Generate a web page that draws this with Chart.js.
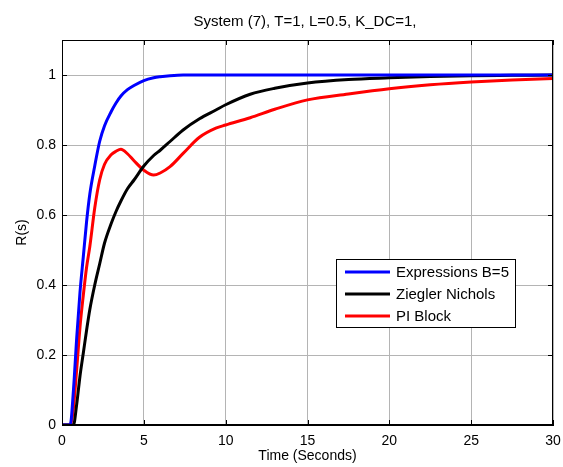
<!DOCTYPE html>
<html>
<head>
<meta charset="utf-8">
<script src="https://cdn.jsdelivr.net/npm/chart.js@4.4.1/dist/chart.umd.min.js"></script>
<style>
    html, body { margin: 0; padding: 0; background: #fff; }
</style>
</head>
<body>
<canvas id="myChart" width="563" height="467"></canvas>
<script>
// time samples (seconds) and the three step responses
var times       = [0, 0.5, 0.7, 0.9, 1.1, 1.3, 1.5, 1.7, 2.0, 2.3, 2.6, 3.0, 3.3, 3.6, 4.0, 4.4, 5.0, 5.6, 6.0, 6.6, 7.4, 8.4, 9.4, 10, 11.5, 13, 15, 17.5, 20, 22.5, 25, 27.5, 30];
var expressions = [0, 0, 0.10, 0.25, 0.38, 0.48, 0.58, 0.66, 0.74, 0.81, 0.855, 0.895, 0.92, 0.94, 0.958, 0.97, 0.984, 0.992, 0.995, 0.998, 1.0, 1.0, 1.0, 1.0, 1.0, 1.0, 1.0, 1.0, 1.0, 1.0, 1.0, 1.0, 1.0];
var ziegler     = [0, 0, 0.0, 0.06, 0.14, 0.205, 0.27, 0.33, 0.40, 0.46, 0.52, 0.575, 0.61, 0.64, 0.675, 0.70, 0.74, 0.77, 0.785, 0.81, 0.843, 0.875, 0.90, 0.915, 0.945, 0.962, 0.977, 0.987, 0.992, 0.996, 0.998, 0.999, 1.0];
var piBlock     = [0, 0, 0.05, 0.16, 0.28, 0.37, 0.45, 0.51, 0.62, 0.70, 0.745, 0.772, 0.782, 0.788, 0.775, 0.755, 0.728, 0.714, 0.72, 0.738, 0.776, 0.822, 0.848, 0.857, 0.878, 0.902, 0.929, 0.946, 0.961, 0.972, 0.98, 0.986, 0.99];

var seriesLabels = ['Expressions B=5', 'Ziegler Nichols', 'PI Block'];
var seriesColors = ['#0000ff', '#000000', '#ff0000'];

var xTicks = [0, 5, 10, 15, 20, 25, 30];
var yTicks = [0, 0.2, 0.4, 0.6, 0.8, 1];

var FONT = "'Liberation Sans', Arial, sans-serif";
Chart.defaults.font.family = FONT;
Chart.defaults.font.size = 14;
Chart.defaults.color = '#000';

function toPoints(values) {
    return times.map(function(t, i) { return { x: t, y: values[i] }; });
}

// title, box frame, inner tick marks and the legend inside the axes
var matlabLook = {
    id: 'matlabLook',
    afterDraw: function(chart) {
        var ctx = chart.ctx;
        var a = chart.chartArea;
        var xs = chart.scales.x, ys = chart.scales.y;
        ctx.save();

        ctx.fillStyle = '#000';
        ctx.font = '15px ' + FONT;
        ctx.textAlign = 'center';
        ctx.textBaseline = 'alphabetic';
        ctx.fillText('System (7), T=1, L=0.5, K_DC=1,', (a.left + a.right) / 2 - 2.5, 26);

        ctx.strokeStyle = '#000';
        ctx.lineWidth = 1;
        ctx.strokeRect(a.left + 0.5, a.top + 0.5, a.right - a.left - 1, a.bottom - a.top - 1);

        ctx.beginPath();
        xTicks.forEach(function(v) {
            var px = Math.round(xs.getPixelForValue(v)) + 0.5;
            ctx.moveTo(px, a.bottom); ctx.lineTo(px, a.bottom - 5);
            ctx.moveTo(px, a.top); ctx.lineTo(px, a.top + 5);
        });
        yTicks.forEach(function(v) {
            var py = Math.round(ys.getPixelForValue(v)) + 0.5;
            ctx.moveTo(a.left, py); ctx.lineTo(a.left + 5, py);
            ctx.moveTo(a.right, py); ctx.lineTo(a.right - 5, py);
        });
        ctx.stroke();

        // legend box
        var lx = a.right - 217, ly = a.top + 219, lw = 179, lh = 68;
        ctx.fillStyle = '#fff';
        ctx.fillRect(lx, ly, lw, lh);
        ctx.strokeRect(lx + 0.5, ly + 0.5, lw, lh);
        ctx.font = '15px ' + FONT;
        ctx.textAlign = 'left';
        ctx.textBaseline = 'middle';
        chart.data.datasets.forEach(function(ds, i) {
            var y = ly + 13 + i * 22;
            ctx.strokeStyle = ds.borderColor;
            ctx.lineWidth = 3;
            ctx.beginPath();
            ctx.moveTo(lx + 9, y); ctx.lineTo(lx + 54, y);
            ctx.stroke();
            ctx.fillStyle = '#000';
            ctx.fillText(ds.label, lx + 60, y + 1);
        });
        ctx.restore();
    }
};

var ctx = document.getElementById('myChart');
var myChart = new Chart(ctx, {
    type: 'line',
    data: {
        datasets: [expressions, ziegler, piBlock].map(function(values, i) {
            return {
                label: seriesLabels[i],
                data: toPoints(values),
                borderColor: seriesColors[i],
                backgroundColor: seriesColors[i],
                borderWidth: 3,
                pointRadius: 0,
                cubicInterpolationMode: 'monotone',
                fill: false
            };
        })
    },
    options: {
        responsive: false,
        animation: false,
        layout: { padding: { top: 40, right: 10, left: 0, bottom: 0 } },
        plugins: {
            legend: { display: false },
            title: { display: false },
            tooltip: { enabled: false }
        },
        scales: {
            x: {
                type: 'linear',
                min: 0,
                max: 30,
                afterBuildTicks: function(scale) {
                    scale.ticks = xTicks.map(function(v) { return { value: v }; });
                },
                afterFit: function(scale) {
                    scale.height = 42;
                    scale.paddingLeft = 0;
                    scale.paddingRight = 0;
                },
                grid: { color: '#b4b4b4', drawTicks: false },
                border: { color: '#000', width: 1 },
                ticks: { padding: 8, maxRotation: 0, color: '#000' },
                title: { display: true, text: 'Time (Seconds)', color: '#000', padding: { top: 0, bottom: 2 } }
            },
            y: {
                type: 'linear',
                min: 0,
                max: 1.1,
                afterBuildTicks: function(scale) {
                    scale.ticks = yTicks.map(function(v) { return { value: v }; });
                },
                afterFit: function(scale) { scale.width = 62; },
                grid: { color: '#b4b4b4', drawTicks: false },
                border: { color: '#000', width: 1 },
                ticks: {
                    padding: 6,
                    color: '#000',
                    callback: function(v) { return String(Math.round(v * 10) / 10); }
                },
                title: { display: true, text: 'R(s)', color: '#000', padding: { top: 14, bottom: 0 } }
            }
        }
    },
    plugins: [matlabLook]
});
</script>
</body>
</html>
